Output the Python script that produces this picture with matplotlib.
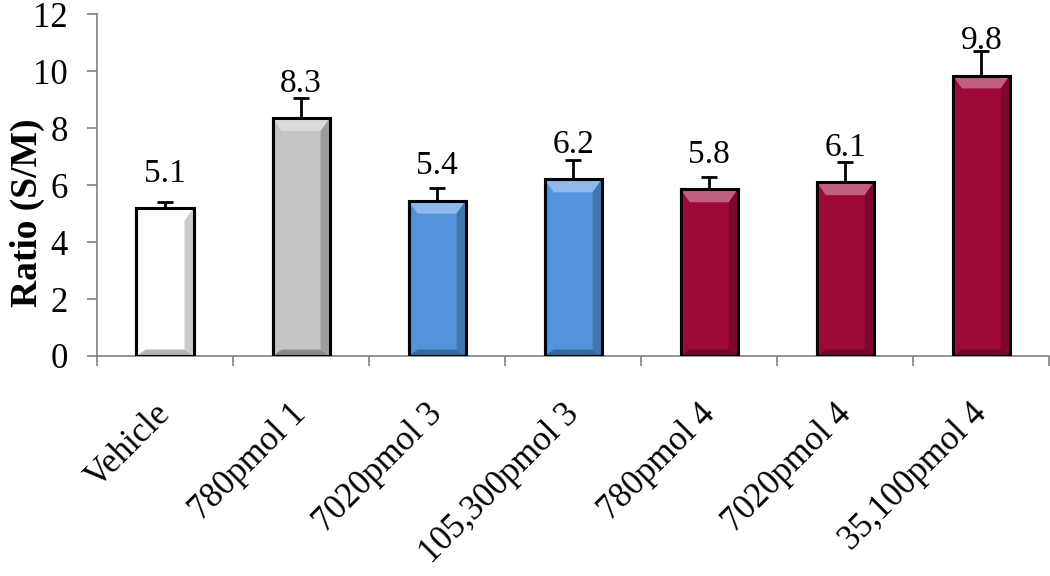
import matplotlib
matplotlib.use("Agg")
import matplotlib.pyplot as plt
from matplotlib.patches import Polygon, Rectangle
from matplotlib.transforms import ScaledTranslation
import numpy as np

# data
groups = ["Vehicle", "780pmol 1", "7020pmol 3", "105,300pmol 3",
          "780pmol 4", "7020pmol 4", "35,100pmol 4"]
ratio = [5.2, 8.35, 5.45, 6.2, 5.85, 6.1, 9.85]
err = [0.2, 0.7, 0.45, 0.7, 0.45, 0.7, 0.85]
value_labels = ["5.1", "8.3", "5.4", "6.2", "5.8", "6.1", "9.8"]
colors = ["#ffffff", "#c4c4c4", "#5294dc", "#5294dc",
          "#9e0a38", "#9e0a38", "#9e0a38"]

plt.rcParams["font.family"] = ["Liberation Serif", "DejaVu Serif"]

fig = plt.figure(figsize=(10.5, 5.76), dpi=100)
ax = fig.add_axes([0.0924, 0.382, 0.907, 0.593])

x = np.arange(len(groups))
bars = ax.bar(x, ratio, width=0.42, color=colors, edgecolor="black",
              linewidth=2.2, zorder=3)
ax.errorbar(x, ratio, yerr=[np.zeros(len(err)), err], fmt="none",
            ecolor="black", elinewidth=2, capsize=6, capthick=2, zorder=2)


def shade(c, f):
    rgb = np.array(matplotlib.colors.to_rgb(c))
    if f > 0:
        return tuple(rgb + (1 - rgb) * f)
    return tuple(rgb * (1 + f))


# simple bevel look
for b, c in zip(bars, colors):
    x0, w, h = b.get_x(), b.get_width(), b.get_height()
    dx = w * 0.16
    dy = 0.45
    top = Polygon([(x0, h), (x0 + w, h), (x0 + w - dx, h - dy), (x0 + dx, h - dy)],
                  closed=True, facecolor=shade(c, 0.35), edgecolor="none", zorder=3.5)
    bot = Polygon([(x0, 0), (x0 + w, 0), (x0 + w - dx, dy * 0.5), (x0 + dx, dy * 0.5)],
                  closed=True, facecolor=shade(c, -0.3), edgecolor="none", zorder=3.5)
    right = Polygon([(x0 + w, 0), (x0 + w, h), (x0 + w - dx, h - dy), (x0 + w - dx, dy * 0.5)],
                    closed=True, facecolor=shade(c, -0.2), edgecolor="none", zorder=3.5)
    ax.add_patch(top)
    ax.add_patch(bot)
    ax.add_patch(right)
    ax.add_patch(Rectangle((x0, 0), w, h, facecolor="none",
                           edgecolor="black", linewidth=2.2, zorder=4))

for xi, h, t in zip(x, ratio, value_labels):
    ax.annotate(t, (xi, h), xytext=(0, 14), textcoords="offset points",
                ha="center", va="bottom", fontsize=24, zorder=5)

ax.set_xlim(-0.5, len(groups) - 0.5)
ax.set_ylim(0, 12)
ax.set_yticks(range(0, 13, 2))
ax.tick_params(axis="y", labelsize=25, length=7, width=1.2, color="#808080", pad=14)

ax.set_xticks(x)
ax.set_xticklabels(groups, rotation=45, ha="right", rotation_mode="anchor",
                   fontsize=25)
ax.tick_params(axis="x", which="major", length=0, pad=30)
ax.set_xticks(np.arange(len(groups) + 1) - 0.5, minor=True)
ax.tick_params(axis="x", which="minor", length=7, width=1.2, color="#808080")
shift = ScaledTranslation(-8 / 72, 0, fig.dpi_scale_trans)
for lab in ax.get_xticklabels():
    lab.set_transform(lab.get_transform() + shift)

ax.set_ylabel("Ratio (S/M)", fontsize=27, fontweight="bold")
ax.yaxis.set_label_coords(-0.055, 0.42)

for s in ["top", "right"]:
    ax.spines[s].set_visible(False)
for s in ["left", "bottom"]:
    ax.spines[s].set_color("#808080")
    ax.spines[s].set_linewidth(1.2)

fig.savefig("out.png", dpi=100)
